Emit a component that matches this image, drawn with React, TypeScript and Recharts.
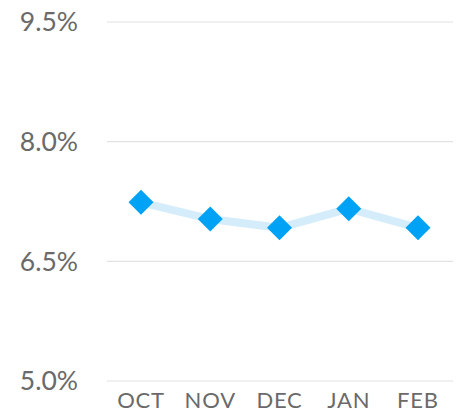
import React from 'react';
import { LineChart, Line, XAxis, YAxis, CartesianGrid } from 'recharts';

const months = ['OCT', 'NOV', 'DEC', 'JAN', 'FEB'];
const rates = [7.24, 7.03, 6.92, 7.16, 6.92];
const yTicks = [5.0, 6.5, 8.0, 9.5];

const data = months.map((month, i) => ({ month, rate: rates[i] }));

const Diamond = (props: any) => {
  const { cx, cy, index } = props;
  if (cx == null || cy == null) return null;
  const r = 12.5;
  return (
    <polygon
      key={`d-${index}`}
      points={`${cx},${cy - r} ${cx + r},${cy} ${cx},${cy + r} ${cx - r},${cy}`}
      fill="#00a2f6"
    />
  );
};

export default function App() {
  return (
    <div style={{ position: 'absolute', left: 0, top: 0, width: 461, height: 413, background: '#fff' }}>
      <LineChart
        width={461}
        height={413}
        data={data}
        margin={{ top: 22, right: 8, bottom: 0, left: 0 }}
      >
        <CartesianGrid vertical={false} stroke="#e2e2e2" strokeWidth={1.2} />
        <XAxis
          dataKey="month"
          axisLine={false}
          tickLine={false}
          tickSize={0}
          tickMargin={11}
          height={32}
          padding={{ left: 34, right: 35 }}
          tick={{ fill: '#6a6a6a', fontSize: 22, fontFamily: 'Lato', letterSpacing: 0.8 }}
          interval={0}
        />
        <YAxis
          domain={[5, 9.5]}
          ticks={yTicks}
          axisLine={false}
          tickLine={false}
          tickSize={0}
          tickMargin={29}
          width={107}
          tickFormatter={(v: number) => `${v.toFixed(1)}%`}
          tick={{ fill: '#6a6a6a', fontSize: 26.5, fontFamily: 'Lato' }}
        />
        <Line
          dataKey="rate"
          stroke="#d5edfb"
          strokeWidth={8}
          dot={Diamond}
          activeDot={false}
          isAnimationActive={false}
          type="linear"
        />
      </LineChart>
    </div>
  );
}
